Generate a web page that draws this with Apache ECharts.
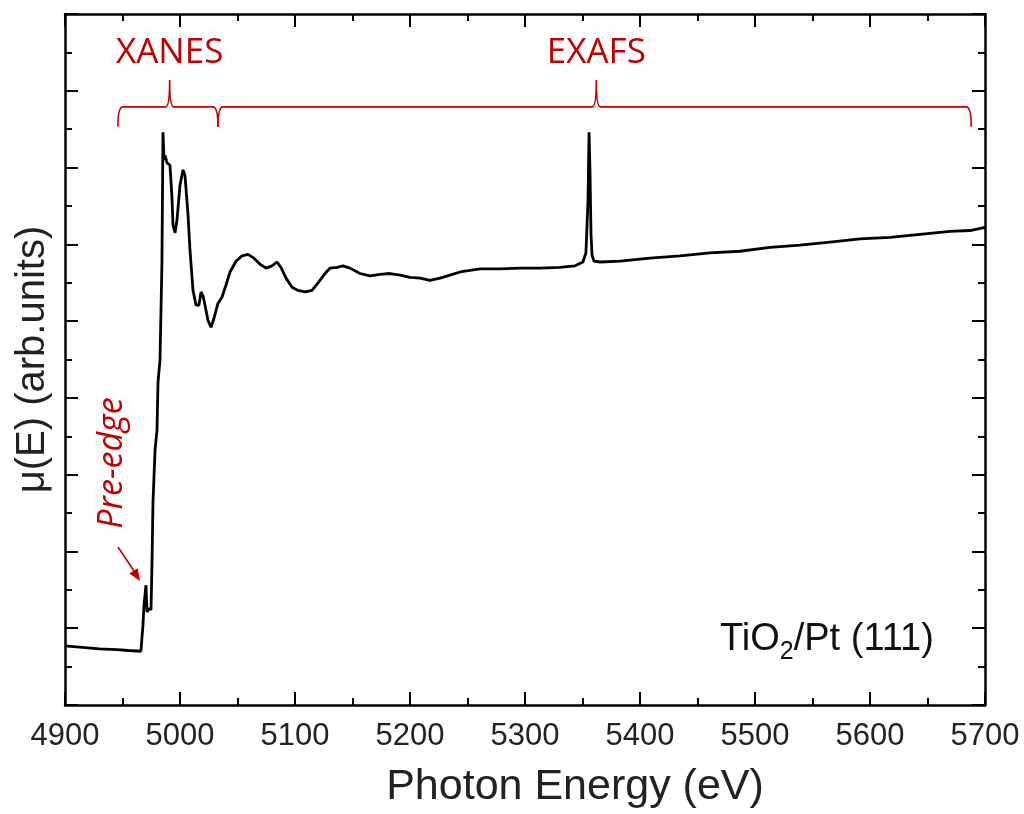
<!DOCTYPE html>
<html>
<head>
<meta charset="utf-8">
<script src="https://cdn.jsdelivr.net/npm/echarts@6/dist/echarts.min.js"></script>
<style>
  html, body { margin: 0; padding: 0; background: #fff; }
  #main { width: 1024px; height: 814px; }
</style>
</head>
<body>
<div id="main"></div>
<script>
// spectrum: photon energy (eV) and mu(E) (arb. units)
var energy = [4900, 4915, 4930, 4945, 4955, 4966, 4967, 4967.8, 4968.7, 4970.4, 4971.3, 4973, 4974.8,
  4975.7, 4976.5, 4978.3, 4980, 4980.9, 4982.6, 4984.3, 4985.2, 4986.1, 4987, 4988.7, 4991.3, 4993,
  4993.9, 4995.7, 4997.4, 5000, 5002.6, 5004.3, 5007, 5008.7, 5011.3, 5013.9, 5016.5, 5018.3, 5020,
  5021.7, 5024.3, 5027, 5029.6, 5033, 5036.5, 5040, 5043.5, 5048.7, 5053.9, 5059.1, 5064.3, 5069.6,
  5074.8, 5080, 5084.3, 5087.8, 5092.2, 5097.4, 5102.6, 5108.7, 5114.8, 5121.7, 5126.1, 5130.4, 5136.5,
  5141.7, 5147.8, 5156.5, 5165.2, 5173.9, 5182.6, 5191.3, 5200, 5208.7, 5217.4, 5226.1, 5234.8, 5243.5,
  5252.2, 5260.9, 5278.3, 5295.7, 5313, 5330.4, 5343.5, 5350.4, 5353, 5354.8, 5355.7, 5356.5, 5357.4,
  5358.3, 5360, 5365.2, 5382.6, 5408.7, 5434.8, 5460.9, 5487, 5513, 5539.1, 5565.2, 5591.3, 5617.4,
  5643.5, 5669.6, 5687, 5700];
var mu = [0.77, 0.75, 0.73, 0.72, 0.71, 0.70, 0.72, 1.04, 1.30, 1.56, 1.21, 1.26, 1.24,
  1.89, 2.63, 3.32, 3.58, 4.21, 4.49, 5.76, 7.46, 7.10, 7.16, 7.06, 7.03, 6.61,
  6.25, 6.15, 6.32, 6.77, 6.97, 6.90, 6.38, 5.92, 5.40, 5.21, 5.21, 5.38, 5.33,
  5.21, 5.01, 4.92, 5.04, 5.23, 5.31, 5.47, 5.64, 5.78, 5.85, 5.87, 5.82, 5.74,
  5.69, 5.72, 5.77, 5.70, 5.56, 5.44, 5.40, 5.38, 5.40, 5.53, 5.62, 5.69, 5.70,
  5.72, 5.69, 5.62, 5.59, 5.61, 5.62, 5.60, 5.57, 5.56, 5.53, 5.56, 5.60, 5.64,
  5.66, 5.68, 5.68, 5.69, 5.69, 5.70, 5.72, 5.77, 5.89, 6.58, 7.46, 6.97, 6.12,
  5.86, 5.78, 5.77, 5.78, 5.82, 5.85, 5.89, 5.91, 5.96, 5.99, 6.03, 6.07, 6.09,
  6.13, 6.17, 6.18, 6.22];

// region braces (energy range) and their labels
var regionNames = ['XANES', 'EXAFS'];
var regionStart = [4946, 5033];
var regionMid = [4991, 5362];
var regionEnd = [5033, 5688];
var braceLine = 7.79, braceFoot = 7.53, braceTip = 8.14, regionLabelY = 8.49;

var red = '#c00000';
var myChart = echarts.init(document.getElementById('main'));

var spectrum = energy.map(function (e, i) { return [e, mu[i]]; });
var braces = regionNames.map(function (n, i) {
  return [regionStart[i], regionMid[i], regionEnd[i], n];
});

function axisCommon(extra) {
  var o = {
    axisLine: { show: true, onZero: false, lineStyle: { color: '#000', width: 2.5 } },
    axisTick: { show: true, inside: true, length: 13, lineStyle: { color: '#000', width: 2 } },
    minorTick: { show: true, splitNumber: 2, length: 7, lineStyle: { color: '#000', width: 2 } },
    splitLine: { show: false },
    axisLabel: { show: false }
  };
  for (var k in extra) o[k] = extra[k];
  return o;
}

var option = {
  animation: false,
  grid: { left: 65, right: 39, top: 14, bottom: 108 },
  xAxis: [
    axisCommon({
      type: 'value', min: 4900, max: 5700, interval: 100, position: 'bottom',
      name: 'Photon Energy (eV)', nameLocation: 'middle', nameGap: 61,
      nameTextStyle: { fontFamily: 'Liberation Sans', fontSize: 43, color: '#222', padding: [0, 0, 0, 100] },
      axisLabel: {
        show: true, margin: 16, fontFamily: 'Liberation Sans', fontSize: 31, color: '#222',
        formatter: function (v) { return String(v); }
      }
    }),
    axisCommon({ type: 'value', min: 4900, max: 5700, interval: 100, position: 'top' })
  ],
  yAxis: [
    axisCommon({
      type: 'value', min: 0, max: 9, interval: 1, position: 'left',
      name: 'μ(E) (arb.units)', nameLocation: 'middle', nameGap: 12,
      nameTextStyle: { fontFamily: 'Liberation Sans', fontSize: 40, color: '#222' }
    }),
    axisCommon({ type: 'value', min: 0, max: 9, interval: 1, position: 'right' })
  ],
  series: [
    {
      type: 'line',
      data: spectrum,
      showSymbol: false,
      lineStyle: { color: '#000', width: 2.8 },
      z: 3
    },
    {
      type: 'custom',
      data: braces,
      silent: true,
      renderItem: function (params, api) {
        var a = api.coord([api.value(0), braceLine]);
        var m = api.coord([api.value(1), braceTip]);
        var b = api.coord([api.value(2), braceLine]);
        var foot = api.coord([api.value(0), braceFoot])[1];
        var lbl = api.coord([api.value(1), regionLabelY]);
        var y = a[1], r = 5, t = 4;
        var d = 'M' + a[0] + ',' + foot +
          ' Q' + a[0] + ',' + y + ' ' + (a[0] + r) + ',' + y +
          ' L' + (m[0] - t) + ',' + y +
          ' Q' + m[0] + ',' + y + ' ' + m[0] + ',' + m[1] +
          ' Q' + m[0] + ',' + y + ' ' + (m[0] + t) + ',' + y +
          ' L' + (b[0] - r) + ',' + y +
          ' Q' + b[0] + ',' + y + ' ' + b[0] + ',' + foot;
        return {
          type: 'group',
          children: [
            { type: 'path', shape: { pathData: d }, style: { stroke: red, fill: null, lineWidth: 1.6 } },
            {
              type: 'text', x: lbl[0], y: lbl[1],
              style: {
                text: api.value(3), fill: red, fontFamily: 'Open Sans', fontSize: 35,
                align: 'center', verticalAlign: 'middle'
              }
            }
          ]
        };
      },
      z: 4
    }
  ],
  graphic: [
    {
      type: 'text', x: 112, y: 463, rotation: Math.PI / 2,
      style: {
        text: 'Pre-edge', fill: red, fontFamily: 'Open Sans', fontStyle: 'italic', fontSize: 34,
        align: 'center', verticalAlign: 'middle'
      }
    },
    {
      type: 'line', shape: { x1: 118, y1: 547, x2: 134, y2: 571 },
      style: { stroke: red, lineWidth: 1.6 }
    },
    {
      type: 'polygon', shape: { points: [[140, 581], [129.3, 573.6], [137.7, 568.2]] },
      style: { fill: red }
    },
    {
      type: 'text', x: 720, y: 640,
      style: {
        text: '{m|TiO}{s|2}{m|/Pt (111)}', fill: '#111', verticalAlign: 'middle',
        rich: {
          m: { fontFamily: 'Liberation Sans', fontSize: 38, color: '#111', lineHeight: 44 },
          s: { fontFamily: 'Liberation Sans', fontSize: 25, color: '#111', lineHeight: 44, padding: [24, 0, 0, 0] }
        }
      }
    }
  ]
};

myChart.setOption(option);
</script>
</body>
</html>
